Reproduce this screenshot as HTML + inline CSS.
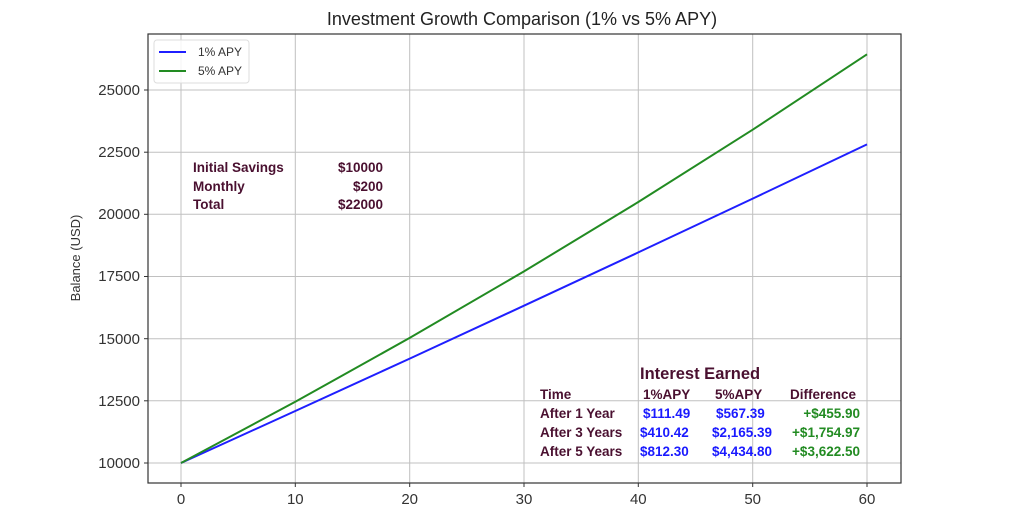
<!DOCTYPE html>
<html><head><meta charset="utf-8"><style>
html,body{margin:0;padding:0;background:#fff;}
svg{display:block;font-family:"Liberation Sans",sans-serif;}
.t{fill:#333;font-size:15px;}
.m{fill:#4a1030;font-weight:bold;font-size:13.5px;}
.b{fill:#1a1aff;font-weight:bold;font-size:13.5px;}
.g{fill:#228b22;font-weight:bold;font-size:13.5px;}
</style></head><body>
<svg width="1024" height="512" viewBox="0 0 1024 512">
<rect width="1024" height="512" fill="#fff"/>
<text x="522" y="25" text-anchor="middle" font-size="18" fill="#222">Investment Growth Comparison (1% vs 5% APY)</text>
<g stroke="#c0c0c0" stroke-width="1">
<line x1="181" y1="34" x2="181" y2="483"/><line x1="295.3" y1="34" x2="295.3" y2="483"/>
<line x1="409.7" y1="34" x2="409.7" y2="483"/><line x1="524" y1="34" x2="524" y2="483"/>
<line x1="638.3" y1="34" x2="638.3" y2="483"/><line x1="752.7" y1="34" x2="752.7" y2="483"/>
<line x1="867" y1="34" x2="867" y2="483"/>
<line x1="148" y1="463" x2="901" y2="463"/><line x1="148" y1="400.8" x2="901" y2="400.8"/>
<line x1="148" y1="338.7" x2="901" y2="338.7"/><line x1="148" y1="276.5" x2="901" y2="276.5"/>
<line x1="148" y1="214.3" x2="901" y2="214.3"/><line x1="148" y1="152.2" x2="901" y2="152.2"/>
<line x1="148" y1="90" x2="901" y2="90"/>
</g>
<g stroke="#333" stroke-width="1">
<line x1="144" y1="463" x2="148" y2="463"/><line x1="144" y1="400.8" x2="148" y2="400.8"/>
<line x1="144" y1="338.7" x2="148" y2="338.7"/><line x1="144" y1="276.5" x2="148" y2="276.5"/>
<line x1="144" y1="214.3" x2="148" y2="214.3"/><line x1="144" y1="152.2" x2="148" y2="152.2"/>
<line x1="144" y1="90" x2="148" y2="90"/>
<line x1="181" y1="483" x2="181" y2="487"/><line x1="295.3" y1="483" x2="295.3" y2="487"/>
<line x1="409.7" y1="483" x2="409.7" y2="487"/><line x1="524" y1="483" x2="524" y2="487"/>
<line x1="638.3" y1="483" x2="638.3" y2="487"/><line x1="752.7" y1="483" x2="752.7" y2="487"/>
<line x1="867" y1="483" x2="867" y2="487"/>
</g>
<g class="t" text-anchor="end">
<text x="140" y="468">10000</text><text x="140" y="406">12500</text><text x="140" y="344">15000</text>
<text x="140" y="281">17500</text><text x="140" y="219">20000</text><text x="140" y="157">22500</text><text x="140" y="95">25000</text>
</g>
<g class="t" text-anchor="middle">
<text x="181" y="504">0</text><text x="295.3" y="504">10</text><text x="409.7" y="504">20</text>
<text x="524" y="504">30</text><text x="638.3" y="504">40</text><text x="752.7" y="504">50</text><text x="867" y="504">60</text>
</g>
<text transform="translate(80,258) rotate(-90)" text-anchor="middle" font-size="13" fill="#333">Balance (USD)</text>
<polyline fill="none" stroke="#1f1fff" stroke-width="2" points="181,463 295.3,411 409.7,358.6 524,305.7 638.3,252.4 752.7,198.6 867,144.4"/>
<polyline fill="none" stroke="#228b22" stroke-width="2" points="181,463 295.3,401.8 409.7,337.9 524,271.4 638.3,202 752.7,129.7 867,54.3"/>
<rect x="148" y="34" width="753" height="449" fill="none" stroke="#333" stroke-width="1.2"/>
<rect x="154" y="40" width="95" height="43" rx="3" fill="#fff" fill-opacity="0.85" stroke="#ddd"/>
<line x1="159" y1="52" x2="186" y2="52" stroke="#1f1fff" stroke-width="2"/>
<line x1="159" y1="71" x2="186" y2="71" stroke="#228b22" stroke-width="2"/>
<text x="198" y="56" font-size="12" fill="#333">1% APY</text>
<text x="198" y="75" font-size="12" fill="#333">5% APY</text>
<text class="m" x="193" y="172">Initial Savings</text><text class="m" x="383" y="172" text-anchor="end">$10000</text>
<text class="m" x="193" y="191">Monthly</text><text class="m" x="383" y="191" text-anchor="end">$200</text>
<text class="m" x="193" y="209">Total</text><text class="m" x="383" y="209" text-anchor="end">$22000</text>
<text x="640" y="379" fill="#4a1030" font-weight="bold" font-size="16.5">Interest Earned</text>
<text class="m" x="540" y="399">Time</text><text class="m" x="643" y="399">1%APY</text><text class="m" x="715" y="399">5%APY</text><text class="m" x="790" y="399">Difference</text>
<text class="m" x="540" y="418">After 1 Year</text><text class="m" x="540" y="437">After 3 Years</text><text class="m" x="540" y="456">After 5 Years</text>
<text class="b" x="643" y="418">$111.49</text><text class="b" x="640" y="437">$410.42</text><text class="b" x="640" y="456">$812.30</text>
<text class="b" x="716" y="418">$567.39</text><text class="b" x="712" y="437">$2,165.39</text><text class="b" x="712" y="456">$4,434.80</text>
<text class="g" x="860" y="418" text-anchor="end">+$455.90</text><text class="g" x="860" y="437" text-anchor="end">+$1,754.97</text><text class="g" x="860" y="456" text-anchor="end">+$3,622.50</text>
</svg>
</body></html>
